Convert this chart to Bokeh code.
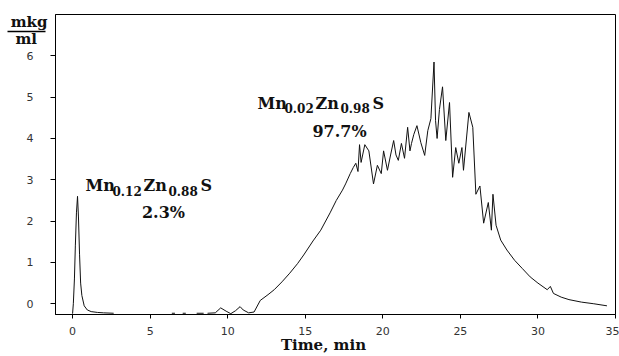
from bokeh.plotting import figure
from bokeh.models import Range1d, Label, FixedTicker, LinearAxis
from bokeh.embed import file_html
from bokeh.resources import INLINE

nan = float("nan")

# Elution time, min
time_min = [
    0.0, 0.05, 0.12, 0.18, 0.25, 0.32, 0.38, 0.45, 0.52, 0.6, 0.75, 0.95, 1.2, 1.6, 2.0, 2.65,
    nan, 6.4, 6.6, nan, 7.1, 7.3, nan, 8.0, 8.45, nan,
    8.7, 9.2, 9.55, 9.9, 10.2, 10.5, 10.8, 11.0, 11.35, 11.7, 12.1, 12.6, 13.0, 13.5, 14.0,
    14.5, 14.9, 15.5, 16.0, 16.6, 17.0, 17.4, 17.6, 17.9, 18.1, 18.26, 18.4, 18.5, 18.6, 18.7, 18.84,
    19.1, 19.4, 19.65, 19.9, 20.05, 20.3, 20.5, 20.7, 20.85, 21.0, 21.2, 21.4, 21.6, 21.75, 21.85, 22.0,
    22.2, 22.45, 22.7, 22.9, 23.1, 23.3, 23.4, 23.5, 23.65, 23.85, 24.06, 24.3, 24.5, 24.7, 24.9,
    25.1, 25.2, 25.55, 25.8, 26.0, 26.26, 26.5, 26.8, 27.0, 27.1, 27.3, 27.6, 28.0, 28.5,
    29.0, 29.5, 30.0, 30.6, 30.8, 31.0, 31.5, 32.0, 32.8, 33.6, 34.45,
]
# Concentration, mkg/ml
conc = [
    -0.24, 0.0, 0.6, 1.4, 2.2, 2.6, 2.1, 1.2, 0.5, 0.2, -0.05, -0.15, -0.19, -0.21, -0.22, -0.23,
    nan, -0.23, -0.23, nan, -0.23, -0.23, nan, -0.23, -0.23, nan,
    -0.23, -0.22, -0.1, -0.18, -0.24, -0.17, -0.07, -0.15, -0.22, -0.2, 0.08, 0.22, 0.34, 0.53, 0.74,
    0.97, 1.18, 1.52, 1.78, 2.2, 2.5, 2.75, 2.9, 3.15, 3.3, 3.4, 3.2, 3.85, 3.42, 3.6, 3.85,
    3.7, 2.9, 3.35, 3.15, 3.7, 3.23, 3.6, 3.95, 3.6, 3.47, 3.88, 3.52, 4.27, 3.7, 3.88, 4.1,
    4.31, 3.9, 3.59, 4.19, 4.48, 5.85, 4.43, 4.0, 4.7, 5.25, 3.95, 4.87, 3.06, 3.78, 3.4,
    3.78, 3.23, 4.63, 4.27, 2.65, 2.85, 1.95, 2.45, 1.78, 2.65, 1.9, 1.54, 1.3, 1.05,
    0.85, 0.65, 0.5, 0.34, 0.42, 0.25, 0.16, 0.1, 0.04, 0.0, -0.05,
]

x_ticks = [0, 5, 10, 15, 20, 25, 30, 35]
y_ticks = [0, 1, 2, 3, 4, 5, 6]

XMIN, XMAX = -1.1, 35.0
YMIN, YMAX = -0.26, 7.0
W, H = 619, 356
L, R, T, B = 55, 4, 14, 41

p = figure(width=W, height=H, output_backend="svg", toolbar_location=None,
           x_range=Range1d(XMIN, XMAX), y_range=Range1d(YMIN, YMAX),
           min_border_left=L, min_border_right=R, min_border_top=T, min_border_bottom=B)
p.background_fill_color = "white"
p.border_fill_color = "white"
p.outline_line_color = "black"
p.outline_line_width = 1
p.xgrid.visible = False
p.ygrid.visible = False

# helper ranges in canvas pixels, for placing texts
p.extra_x_ranges = {"px": Range1d(L, W - R)}
p.extra_y_ranges = {"px": Range1d(H - B, T)}

for ax in (p.xaxis[0], p.yaxis[0]):
    ax.axis_line_color = "black"
    ax.major_tick_line_color = "black"
    ax.minor_tick_line_color = None
    ax.major_tick_in = 0
    ax.major_label_text_font = "DejaVu Sans"
    ax.major_label_text_font_size = "11px"
    ax.major_label_text_color = "#333333"
p.xaxis[0].ticker = FixedTicker(ticks=x_ticks)
p.yaxis[0].ticker = FixedTicker(ticks=y_ticks)
p.xaxis[0].major_tick_out = 4
p.yaxis[0].major_tick_out = 5
p.xaxis[0].major_label_standoff = 8
p.yaxis[0].major_label_standoff = 17

p.line(time_min, conc, line_color="#111111", line_width=1)

SERIF = "DejaVu Serif"

def text_axis(side, ticks, texts, standoff, range_name):
    kw = dict(ticker=FixedTicker(ticks=ticks),
              major_label_overrides=dict(zip(ticks, texts)), axis_line_color=None,
              major_tick_line_color=None, minor_tick_line_color=None,
              major_tick_out=0, major_tick_in=0, major_label_standoff=standoff,
              major_label_text_font=SERIF, major_label_text_font_size="15px",
              major_label_text_font_style="bold", major_label_text_color="#111111")
    if side in ("left", "right"):
        kw["y_range_name"] = range_name
    else:
        kw["x_range_name"] = range_name
    ax = LinearAxis(**kw)
    p.add_layout(ax, side)
    return ax

# y unit as a fraction, left of the frame top
text_axis("left", [22, 39], ["mkg", "ml\u00a0\u00a0"], -24, "px")
# fraction bar drawn as a long inward tick of an otherwise empty axis
p.add_layout(LinearAxis(y_range_name="px", ticker=FixedTicker(ticks=[31]),
                        major_label_overrides={31: ""}, axis_line_color=None,
                        major_tick_line_color="black", major_tick_line_width=1.6,
                        major_tick_out=0, major_tick_in=38, major_label_standoff=0,
                        minor_tick_line_color=None), "left")
# x axis title
text_axis("below", [323], ["Time, min"], -2, "px")

def lab(text, px, py, size, align="left"):
    p.add_layout(Label(x=px, y=py, x_range_name="px", y_range_name="px", text=text,
                       text_font=SERIF, text_font_size=size, text_font_style="bold",
                       text_align=align, text_baseline="alphabetic",
                       text_color="#111111"))

big, small = "16px", "12px"
# first peak label
lab("Mn", 85, 186, big)
lab("0.12", 112, 191, small)
lab("Zn", 143, 186, big)
lab("0.88", 168, 191, small)
lab("S", 200, 186, big)
lab("2.3%", 163, 213, big, "center")
# second peak label
lab("Mn", 257, 103, big)
lab("0.02", 284, 108, small)
lab("Zn", 315, 103, big)
lab("0.98", 340, 108, small)
lab("S", 372, 103, big)
lab("97.7%", 339, 131, big, "center")

open("out.html", "w").write(file_html(p, INLINE))
